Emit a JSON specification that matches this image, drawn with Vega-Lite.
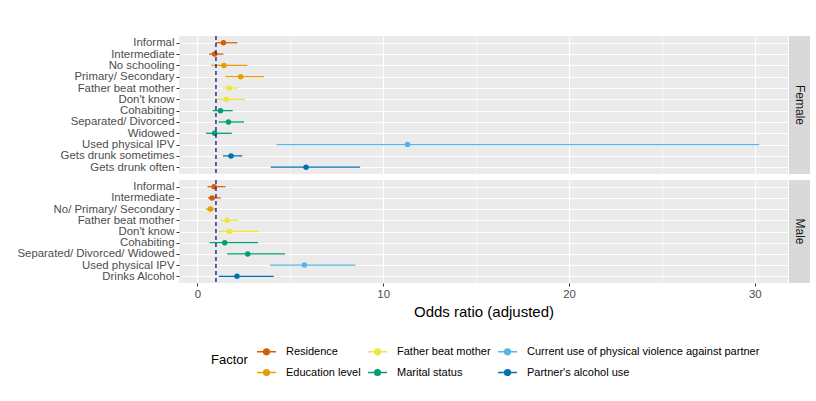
{
  "$schema": "https://vega.github.io/schema/vega-lite/v6.json",
  "padding": {"left": 16, "top": 35, "right": 7, "bottom": 5},
  "background": "white",
  "config": {
    "font": "Liberation Sans",
    "view": {"stroke": null},
    "axis": {
      "labelFont": "Liberation Sans",
      "labelColor": "#4D4D4D",
      "labelFontSize": 11.4,
      "labelPadding": 2,
      "tickColor": "#333333",
      "tickSize": 3,
      "domain": false,
      "gridColor": "white",
      "gridWidth": 1.1,
      "titleFont": "Liberation Sans",
      "titleFontWeight": "normal",
      "titleColor": "black",
      "titleFontSize": 15
    },
    "legend": {
      "labelFont": "Liberation Sans",
      "titleFont": "Liberation Sans",
      "titleFontWeight": "normal"
    }
  },
  "datasets": {
    "d": [
      {"sex": "Female", "label": "Informal", "factor": "Residence", "or": 1.40, "lo": 0.99, "hi": 2.15},
      {"sex": "Female", "label": "Intermediate", "factor": "Residence", "or": 0.93, "lo": 0.63, "hi": 1.40},
      {"sex": "Female", "label": "No schooling", "factor": "Education level", "or": 1.43, "lo": 0.75, "hi": 2.69},
      {"sex": "Female", "label": "Primary/ Secondary", "factor": "Education level", "or": 2.33, "lo": 1.51, "hi": 3.59},
      {"sex": "Female", "label": "Father beat mother", "factor": "Father beat mother", "or": 1.72, "lo": 1.38, "hi": 2.19},
      {"sex": "Female", "label": "Don't know", "factor": "Father beat mother", "or": 1.56, "lo": 0.99, "hi": 2.58},
      {"sex": "Female", "label": "Cohabiting", "factor": "Marital status", "or": 1.24, "lo": 0.82, "hi": 1.90},
      {"sex": "Female", "label": "Separated/ Divorced", "factor": "Marital status", "or": 1.67, "lo": 1.13, "hi": 2.51},
      {"sex": "Female", "label": "Widowed", "factor": "Marital status", "or": 0.93, "lo": 0.46, "hi": 1.85},
      {"sex": "Female", "label": "Used physical IPV", "factor": "Current use of physical violence against partner", "or": 11.31, "lo": 4.27, "hi": 30.24},
      {"sex": "Female", "label": "Gets drunk sometimes", "factor": "Partner's alcohol use", "or": 1.81, "lo": 1.38, "hi": 2.42},
      {"sex": "Female", "label": "Gets drunk often", "factor": "Partner's alcohol use", "or": 5.85, "lo": 3.95, "hi": 8.76},
      {"sex": "Male", "label": "Informal", "factor": "Residence", "or": 0.90, "lo": 0.54, "hi": 1.51},
      {"sex": "Male", "label": "Intermediate", "factor": "Residence", "or": 0.79, "lo": 0.57, "hi": 1.26},
      {"sex": "Male", "label": "No/ Primary/ Secondary", "factor": "Education level", "or": 0.70, "lo": 0.46, "hi": 1.00},
      {"sex": "Male", "label": "Father beat mother", "factor": "Father beat mother", "or": 1.60, "lo": 1.22, "hi": 2.21},
      {"sex": "Male", "label": "Don't know", "factor": "Father beat mother", "or": 1.72, "lo": 1.13, "hi": 3.30},
      {"sex": "Male", "label": "Cohabiting", "factor": "Marital status", "or": 1.47, "lo": 0.66, "hi": 3.27},
      {"sex": "Male", "label": "Separated/ Divorced/ Widowed", "factor": "Marital status", "or": 2.71, "lo": 1.60, "hi": 4.72},
      {"sex": "Male", "label": "Used physical IPV", "factor": "Current use of physical violence against partner", "or": 5.76, "lo": 3.91, "hi": 8.51},
      {"sex": "Male", "label": "Drinks Alcohol", "factor": "Partner's alcohol use", "or": 2.13, "lo": 1.15, "hi": 4.11}
    ]
  },
  "resolve": {"scale": {"x": "independent", "y": "independent", "color": "shared"}},
  "spacing": 4,
  "vconcat": [
    {
      "spacing": 1,
      "resolve": {"scale": {"x": "independent", "y": "independent", "color": "shared"}},
      "hconcat": [
        {
          "width": 609,
          "height": 138,
          "view": {"fill": "#EBEBEB", "stroke": null},
          "layer": [
            {
              "data": {"name": "d"},
              "transform": [{"filter": "datum.sex == 'Female'"}],
              "mark": {"type": "rule", "strokeWidth": 1.3},
              "encoding": {
                "y": {"field": "label", "type": "nominal", "sort": null, "scale": {"type": "point", "padding": 0.6}, "axis": {"title": null, "grid": true}},
                "x": {"field": "lo", "type": "quantitative", "scale": {"domain": [-0.99, 31.79], "nice": false, "zero": false},
                      "axis": {"title": null, "labels": false, "ticks": false, "values": [0, 5, 10, 15, 20, 25, 30], "grid": true,
                               "gridWidth": {"condition": {"test": "datum.value % 10 != 0", "value": 0.55}, "value": 1.1}}},
                "x2": {"field": "hi"},
                "color": {"field": "factor", "type": "nominal",
                  "scale": {"domain": ["Residence", "Father beat mother", "Current use of physical violence against partner", "Education level", "Marital status", "Partner's alcohol use"],
                            "range": ["#D55E00", "#F0E442", "#56B4E9", "#E69F00", "#009E73", "#0072B2"]},
                  "legend": {
                    "orient": "none", "legendX": 32, "legendY": 305,
                    "direction": "horizontal", "columns": 3,
                    "title": "Factor", "titleOrient": "left", "titleAnchor": "middle", "titleFontSize": 13, "titleColor": "black", "titlePadding": 8,
                    "symbolType": "M-1,0L1,0M-0.3,0A0.3,0.3,0,1,1,0.3,0A0.3,0.3,0,1,1,-0.3,0Z",
                    "symbolSize": 361, "symbolStrokeWidth": 1.5,
                    "labelFontSize": 11, "labelColor": "black", "labelOffset": 9, "labelLimit": 400,
                    "columnPadding": 4, "rowPadding": 4
                  }}
              }
            },
            {
              "data": {"name": "d"},
              "transform": [{"filter": "datum.sex == 'Female'"}],
              "mark": {"type": "point", "filled": true, "opacity": 1, "size": 30},
              "encoding": {
                "y": {"field": "label", "type": "nominal", "sort": null},
                "x": {"field": "or", "type": "quantitative"},
                "color": {"field": "factor", "type": "nominal"}
              }
            },
            {
              "data": {"values": [{"ref": 1}]},
              "mark": {"type": "rule", "color": "#1E1E8E", "strokeWidth": 1.4, "strokeDash": [4, 3]},
              "encoding": {"x": {"field": "ref", "type": "quantitative"}}
            }
          ]
        },
        {
          "width": 21,
          "height": 138,
          "view": {"fill": "#D9D9D9", "stroke": null},
          "data": {"values": [{"panel": "Female"}]},
          "mark": {"type": "text", "angle": 90, "fontSize": 12, "color": "#1A1A1A", "font": "Liberation Sans"},
          "encoding": {
            "text": {"field": "panel"},
            "x": {"field": "panel", "type": "nominal", "axis": null},
            "y": {"field": "panel", "type": "nominal", "axis": null}
          }
        }
      ]
    },
    {
      "spacing": 1,
      "resolve": {"scale": {"x": "independent", "y": "independent", "color": "shared"}},
      "hconcat": [
        {
          "width": 609,
          "height": 103,
          "view": {"fill": "#EBEBEB", "stroke": null},
          "layer": [
            {
              "data": {"name": "d"},
              "transform": [{"filter": "datum.sex == 'Male'"}],
              "mark": {"type": "rule", "strokeWidth": 1.3},
              "encoding": {
                "y": {"field": "label", "type": "nominal", "sort": null, "scale": {"type": "point", "padding": 0.6}, "axis": {"title": null, "grid": true}},
                "x": {"field": "lo", "type": "quantitative", "scale": {"domain": [-0.99, 31.79], "nice": false, "zero": false},
                      "axis": {"title": "Odds ratio (adjusted)", "titlePadding": 5, "values": [0, 5, 10, 15, 20, 25, 30], "grid": true,
                               "labelExpr": "datum.value % 10 == 0 ? datum.label : ''",
                               "tickColor": {"condition": {"test": "datum.value % 10 != 0", "value": "transparent"}, "value": "#333333"},
                               "gridWidth": {"condition": {"test": "datum.value % 10 != 0", "value": 0.55}, "value": 1.1}}},
                "x2": {"field": "hi"},
                "color": {"field": "factor", "type": "nominal"}
              }
            },
            {
              "data": {"name": "d"},
              "transform": [{"filter": "datum.sex == 'Male'"}],
              "mark": {"type": "point", "filled": true, "opacity": 1, "size": 30},
              "encoding": {
                "y": {"field": "label", "type": "nominal", "sort": null},
                "x": {"field": "or", "type": "quantitative"},
                "color": {"field": "factor", "type": "nominal"}
              }
            },
            {
              "data": {"values": [{"ref": 1}]},
              "mark": {"type": "rule", "color": "#1E1E8E", "strokeWidth": 1.4, "strokeDash": [4, 3]},
              "encoding": {"x": {"field": "ref", "type": "quantitative"}}
            }
          ]
        },
        {
          "width": 21,
          "height": 103,
          "view": {"fill": "#D9D9D9", "stroke": null},
          "data": {"values": [{"panel": "Male"}]},
          "mark": {"type": "text", "angle": 90, "fontSize": 12, "color": "#1A1A1A", "font": "Liberation Sans"},
          "encoding": {
            "text": {"field": "panel"},
            "x": {"field": "panel", "type": "nominal", "axis": null},
            "y": {"field": "panel", "type": "nominal", "axis": null}
          }
        }
      ]
    }
  ]
}
